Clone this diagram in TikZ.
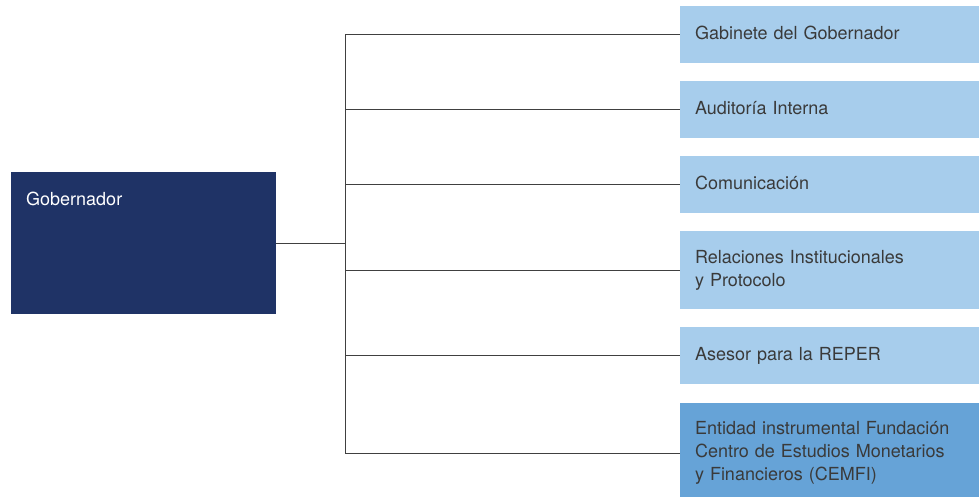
\documentclass[tikz,border=0pt]{standalone}
\usepackage{fontspec}
\setmainfont{TeX Gyre Heros}
\usepackage{tikz}
\usetikzlibrary{positioning,calc}
\definecolor{marine}{HTML}{1F3366}
\definecolor{hellblau}{HTML}{A7CDEC}
\definecolor{mittelblau}{HTML}{66A3D7}
\definecolor{schrift}{HTML}{3A3A3A}
\tikzset{
  linie/.style={draw=black!75,line width=0.9pt},
  kasten/.style={anchor=north west,inner xsep=15pt,inner ysep=0pt,outer sep=0pt,
    minimum width=299pt,text width=269pt,align=left,text=schrift,
    font=\fontsize{18}{23}\selectfont,
    execute at begin node=\strut,execute at end node=\strut},
  chef/.style={anchor=north west,fill=marine,inner sep=0pt,outer sep=0pt,
    minimum width=265pt,minimum height=142pt}
}
\begin{document}
\begin{tikzpicture}[x=1pt,y=-1pt]
\useasboundingbox (0,0) rectangle (979,497);
%Gobernador links
\node[chef] (gob) at (11,172) {};
\node[anchor=base west,inner sep=0pt,text=white,font=\fontsize{18}{23}\selectfont] (gobtext) at ($(gob.north west)+(15,33)$) {Gobernador};
\coordinate (stamm) at (345,243);
%Kaesten rechts: Name/oben/Hoehe/Farbe/Text
\foreach \n/\oben/\hoehe/\farbe/\txt in {
  gab/6/57/hellblau/{Gabinete del Gobernador},
  aud/81/57/hellblau/{Auditoría Interna},
  com/156/57/hellblau/{Comunicación},
  rel/231/78/hellblau/{Relaciones Institucionales\\y Protocolo},
  ase/327/57/hellblau/{Asesor para la REPER},
  cem/403/100/mittelblau/{Entidad instrumental Fundación\\Centro de Estudios Monetarios\\y Financieros (CEMFI)}}{
  \node[kasten,fill=\farbe,minimum height=\hoehe pt] (\n) at (680,\oben) {\txt};
  \draw[linie] (stamm |- \n.west) -- (\n.west);
}
\draw[linie] (stamm |- gab.west) -- (stamm |- cem.west);
\draw[linie] (gob.east) -- (stamm);
\end{tikzpicture}
\end{document}
